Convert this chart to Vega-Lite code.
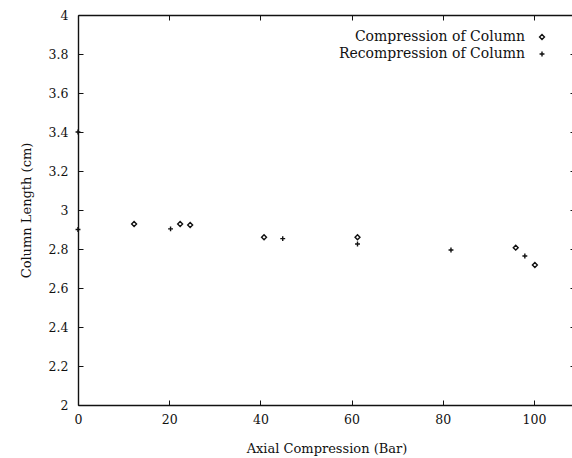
{
  "$schema": "https://vega.github.io/schema/vega-lite/v6.json",
  "autosize": "none",
  "padding": {"left": 78, "top": 15, "right": 0, "bottom": 53},
  "width": 497,
  "height": 390,
  "background": "white",
  "config": {
    "view": {"stroke": null},
    "font": "DejaVu Serif",
    "axis": {
      "grid": false,
      "domainColor": "#111",
      "domainWidth": 1.4,
      "tickColor": "#111",
      "tickSize": -5,
      "labelColor": "#111",
      "titleColor": "#111",
      "labelFont": "DejaVu Serif",
      "titleFont": "DejaVu Serif",
      "labelFontSize": 12.5,
      "titleFontSize": 13,
      "titleFontWeight": "normal",
      "labelOverlap": false
    }
  },
  "data": {
    "values": [
      {"series": "Compression of Column", "bar": 12.3, "length": 2.928},
      {"series": "Compression of Column", "bar": 22.4, "length": 2.928},
      {"series": "Compression of Column", "bar": 24.6, "length": 2.923},
      {"series": "Compression of Column", "bar": 40.8, "length": 2.86},
      {"series": "Compression of Column", "bar": 61.3, "length": 2.86},
      {"series": "Compression of Column", "bar": 96.0, "length": 2.807},
      {"series": "Compression of Column", "bar": 100.2, "length": 2.718},
      {"series": "Recompression of Column", "bar": 0, "length": 3.4},
      {"series": "Recompression of Column", "bar": 0, "length": 2.9},
      {"series": "Recompression of Column", "bar": 20.3, "length": 2.903},
      {"series": "Recompression of Column", "bar": 44.9, "length": 2.853},
      {"series": "Recompression of Column", "bar": 61.3, "length": 2.826},
      {"series": "Recompression of Column", "bar": 81.8, "length": 2.795},
      {"series": "Recompression of Column", "bar": 98.0, "length": 2.764}
    ]
  },
  "layer": [
    {
      "mark": {"type": "point", "filled": false, "strokeWidth": 1.4, "size": 24, "opacity": 1},
      "encoding": {
        "x": {
          "field": "bar", "type": "quantitative",
          "scale": {"domain": [0, 109], "nice": false, "zero": false},
          "axis": {"title": "Axial Compression (Bar)", "values": [0, 20, 40, 60, 80, 100], "labelPadding": 13, "titlePadding": 17, "labelFlush": false}
        },
        "y": {
          "field": "length", "type": "quantitative",
          "scale": {"domain": [2, 4], "nice": false, "zero": false},
          "axis": {"title": "Column Length (cm)", "values": [2, 2.2, 2.4, 2.6, 2.8, 3, 3.2, 3.4, 3.6, 3.8, 4], "format": "~g", "labelPadding": 15, "titlePadding": 15, "labelFlush": false}
        },
        "shape": {
          "field": "series", "type": "nominal",
          "scale": {"domain": ["Compression of Column", "Recompression of Column"], "range": ["diamond", "M-1,0H1M0,-1V1"]},
          "legend": {
            "title": null,
            "orient": "none",
            "legendX": 457,
            "legendY": 15,
            "labelFont": "DejaVu Serif",
            "labelFontSize": 14,
            "labelColor": "#111",
            "labelAlign": "right",
            "labelOffset": -24,
            "rowPadding": 3,
            "symbolStrokeColor": "#111",
            "symbolStrokeWidth": 1.4,
            "symbolSize": 24,
            "symbolFillColor": "transparent",
            "columnPadding": 0,
            "labelLimit": 300
          }
        },
        "color": {"value": "#111"}
      }
    },
    {
      "mark": {"type": "point", "opacity": 0},
      "encoding": {
        "x": {
          "field": "bar", "type": "quantitative",
          "scale": {"domain": [0, 109], "nice": false, "zero": false},
          "axis": {"orient": "top", "title": null, "labels": false, "values": [0, 20, 40, 60, 80, 100]}
        },
        "y": {
          "field": "length", "type": "quantitative",
          "scale": {"domain": [2, 4], "nice": false, "zero": false},
          "axis": {"orient": "right", "title": null, "labels": false, "values": [2, 2.2, 2.4, 2.6, 2.8, 3, 3.2, 3.4, 3.6, 3.8, 4]}
        }
      }
    }
  ],
  "resolve": {"axis": {"x": "independent", "y": "independent"}}
}
